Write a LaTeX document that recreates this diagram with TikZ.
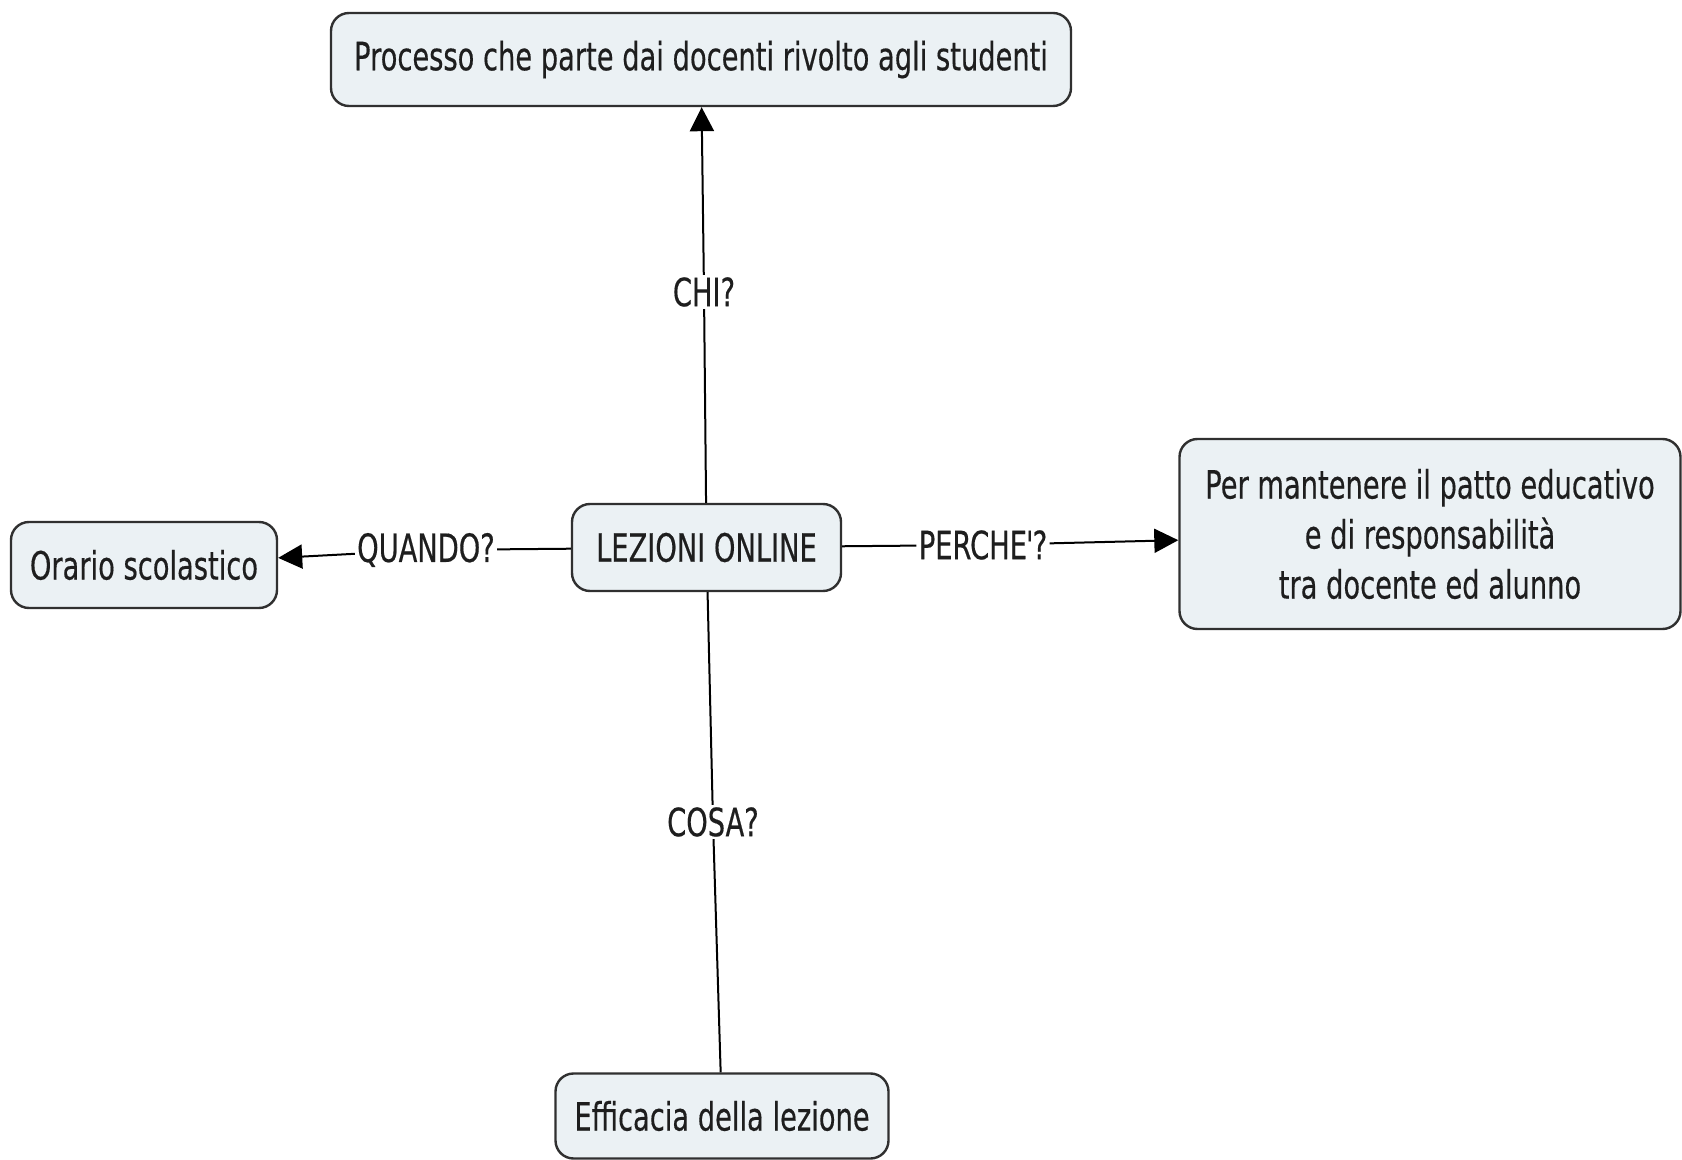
\documentclass[tikz,border=0pt]{standalone}
\usepackage{fontspec}
\setmainfont{DejaVu Sans}[FakeStretch=0.7,FakeBold=0.4]
\usetikzlibrary{arrows.meta}
\definecolor{boxfill}{HTML}{EBF1F4}
\definecolor{boxline}{HTML}{303030}
\definecolor{txt}{HTML}{1E1E1E}
\begin{document}
\begin{tikzpicture}[x=0.5pt,y=-0.5pt,
  concept/.style={draw=boxline, line width=1.2pt, fill=boxfill, rounded corners=9pt,
    inner sep=0pt, align=center, text=txt, font=\fontsize{19.5}{25}\selectfont},
  lbl/.style={fill=white, inner sep=1pt, text=txt, font=\fontsize{19.5}{25}\selectfont},
  link/.style={draw=black, line width=1pt},
  arr/.style={link, -{Triangle[length=12pt,width=12pt]}}]
\fill[white] (0,0) rectangle (1682,1160);
\useasboundingbox (0,0) rectangle (1682,1160);
\node[concept, minimum width=370pt, minimum height=46.5pt] (top) at (701,59.5) {Processo che parte dai docenti rivolto agli studenti};
\node[concept, minimum width=134.5pt, minimum height=43.5pt] (lez) at (706.5,547.5) {LEZIONI ONLINE};
\node[concept, minimum width=133pt, minimum height=43pt] (ora) at (144,565) {Orario scolastico};
\node[concept, minimum width=250.5pt, minimum height=95pt] (per) at (1430,534) {Per mantenere il patto educativo\\e di responsabilità\\ tra docente ed alunno};
\node[concept, minimum width=166.5pt, minimum height=42.5pt] (eff) at (722,1116) {Efficacia della lezione};
\node[lbl] (chi) at (704,292) {CHI?};
\node[lbl] (qua) at (426,550) {QUANDO?};
\node[lbl] (perc) at (983,545) {PERCHE\kern-0.5pt\textquotesingle\kern-2pt?};
\node[lbl] (cosa) at (713,822) {COSA?};
\draw[link] (lez) -- (chi);
\draw[arr] (chi) -- (top);
\draw[link] (lez) -- (qua);
\draw[arr] (qua) -- (ora);
\draw[link] (lez) -- (perc);
\draw[arr] (perc) -- (per);
\draw[link] (lez) -- (cosa);
\draw[link] (cosa) -- (eff);
\end{tikzpicture}
\end{document}
